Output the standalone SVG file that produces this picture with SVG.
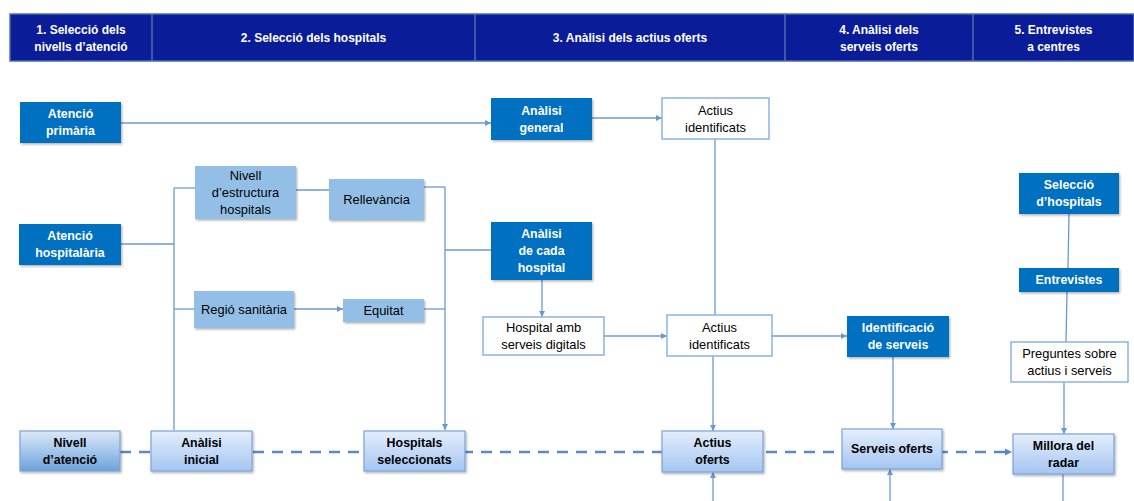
<svg xmlns="http://www.w3.org/2000/svg" width="1134" height="501" viewBox="0 0 1134 501">
<style>
text{font-family:"Liberation Sans",Arial,sans-serif;font-size:12px;text-anchor:middle}
.hd{fill:#fff;font-weight:bold}
.wb{fill:#fff;font-weight:bold;font-size:12.4px}
.bk{fill:#000;font-size:12.9px}
.bb{fill:#000;font-weight:bold;font-size:12.4px}
.dark{fill:#0070C0;filter:url(#sh)}
.light{fill:#93BFE7;filter:url(#sh)}
.white{fill:#fff;stroke:#8CB3E3;stroke-width:1.5}
.grad{fill:url(#g1);stroke:#7AA3D8;stroke-width:1.2;filter:url(#sh)}
.grad2{fill:url(#g2);stroke:#7AA3D8;stroke-width:1.2;filter:url(#sh)}
.c{fill:none;stroke:#6B98D2;stroke-width:1.3}
.ca{fill:none;stroke:#6B98D2;stroke-width:1.3;marker-end:url(#ah)}
.dash{fill:none;stroke:#5A89C8;stroke-width:2.5;stroke-dasharray:11 8}
</style>
<defs>
<filter id="sh" x="-10%" y="-10%" width="125%" height="130%">
<feDropShadow dx="1.2" dy="1.5" stdDeviation="1" flood-color="#000" flood-opacity="0.3"/>
</filter>
<linearGradient id="g1" x1="0" y1="0" x2="0" y2="1">
<stop offset="0" stop-color="#E4EEFC"/><stop offset="1" stop-color="#A4C5F1"/>
</linearGradient>
<linearGradient id="g2" x1="0" y1="0" x2="0" y2="1">
<stop offset="0" stop-color="#DCE8F8"/><stop offset="1" stop-color="#6CA3DC"/>
</linearGradient>
<marker id="ah" markerUnits="userSpaceOnUse" markerWidth="7" markerHeight="6" refX="6" refY="3" orient="auto">
<path d="M0,0 L6,3 L0,6 Z" fill="#6B98D2"/>
</marker>
<marker id="ahd" markerUnits="userSpaceOnUse" markerWidth="8" markerHeight="8" refX="7" refY="4" orient="auto">
<path d="M0,0.5 L7,4 L0,7.5 Z" fill="#5A89C8"/>
</marker>
</defs>

<g id="header">
<rect x="10" y="14" width="1124" height="47" fill="#0A1C98" stroke="#4C6EA8" stroke-width="1.5"/>
<g stroke="#4C6EA8" stroke-width="1.5">
<line x1="152" y1="14" x2="152" y2="61"/>
<line x1="475" y1="14" x2="475" y2="61"/>
<line x1="785" y1="14" x2="785" y2="61"/>
<line x1="973" y1="14" x2="973" y2="61"/>
</g>
<text class="hd" x="81" y="34">1. Selecció dels</text>
<text class="hd" x="81" y="51">nivells d’atenció</text>
<text class="hd" x="313.5" y="42">2. Selecció dels hospitals</text>
<text class="hd" x="630" y="42">3. Anàlisi dels actius oferts</text>
<text class="hd" x="879" y="34">4. Anàlisi dels</text>
<text class="hd" x="879" y="51">serveis oferts</text>
<text class="hd" x="1053.5" y="34">5. Entrevistes</text>
<text class="hd" x="1053.5" y="51">a centres</text>
</g>

<g id="connectors">
<path class="ca" d="M121,123 H491"/>
<path class="ca" d="M592,118 H662"/>
<path class="c" d="M715,139 V315"/>
<path class="c" d="M121,244 H174"/>
<path class="c" d="M174,188 V430"/>
<path class="c" d="M174,188 H195"/>
<path class="c" d="M174,309 H194"/>
<path class="c" d="M296,190 H329"/>
<path class="ca" d="M294,309 H343"/>
<path class="c" d="M424,187 H445"/>
<path class="ca" d="M445,187 V430"/>
<path class="c" d="M424,309 H445"/>
<path class="c" d="M445,250 H491"/>
<path class="ca" d="M542,280 V317"/>
<path class="ca" d="M604,336 H667"/>
<path class="ca" d="M772,336 H847"/>
<path class="ca" d="M713,356 V431"/>
<path class="ca" d="M893,357 V429"/>
<path class="c" d="M1069,214 L1068,268"/>
<path class="c" d="M1067,292 L1066,342"/>
<path class="ca" d="M1064,382 V434"/>
<path class="ca" d="M713,501 V472"/>
<path class="ca" d="M890,501 V469"/>
<path class="c" d="M1063,474 V501"/>
<path class="dash" d="M120,452 H1012" marker-end="url(#ahd)"/>
</g>

<g id="n-atencio-primaria">
<rect class="dark" x="20" y="102" width="101" height="41"/>
<text class="wb" x="70.5" y="118">Atenció</text>
<text class="wb" x="70.5" y="135">primària</text>
</g>
<g id="n-atencio-hospitalaria">
<rect class="dark" x="19" y="224" width="102" height="41"/>
<text class="wb" x="70" y="240">Atenció</text>
<text class="wb" x="70" y="257">hospitalària</text>
</g>
<g id="n-nivell-estructura">
<rect class="light" x="195" y="166" width="101" height="53"/>
<text class="bk" x="245.5" y="180">Nivell</text>
<text class="bk" x="245.5" y="197">d’estructura</text>
<text class="bk" x="245.5" y="214">hospitals</text>
</g>
<g id="n-rellevancia">
<rect class="light" x="329" y="179" width="95" height="41"/>
<text class="bk" x="376.5" y="204">Rellevància</text>
</g>
<g id="n-regio">
<rect class="light" x="194" y="291" width="100" height="37"/>
<text class="bk" x="244" y="314">Regió sanitària</text>
</g>
<g id="n-equitat">
<rect class="light" x="343" y="299" width="81" height="23"/>
<text class="bk" x="383.5" y="315">Equitat</text>
</g>
<g id="n-analisi-general">
<rect class="dark" x="491" y="98" width="101" height="42"/>
<text class="wb" x="541.5" y="115">Anàlisi</text>
<text class="wb" x="541.5" y="132">general</text>
</g>
<g id="n-actius-identificats-1">
<rect class="white" x="662" y="98" width="107" height="41"/>
<text class="bk" x="715.5" y="115">Actius</text>
<text class="bk" x="715.5" y="132">identificats</text>
</g>
<g id="n-analisi-cada">
<rect class="dark" x="491" y="222" width="101" height="58"/>
<text class="wb" x="541.5" y="238">Anàlisi</text>
<text class="wb" x="541.5" y="255">de cada</text>
<text class="wb" x="541.5" y="272">hospital</text>
</g>
<g id="n-hospital-amb">
<rect class="white" x="483" y="317" width="121" height="38"/>
<text class="bk" x="543.5" y="332">Hospital amb</text>
<text class="bk" x="543.5" y="349">serveis digitals</text>
</g>
<g id="n-actius-identificats-2">
<rect class="white" x="667" y="315" width="105" height="41"/>
<text class="bk" x="719.5" y="332">Actius</text>
<text class="bk" x="719.5" y="349">identificats</text>
</g>
<g id="n-identificacio">
<rect class="dark" x="847" y="316" width="102" height="41"/>
<text class="wb" x="898" y="332">Identificació</text>
<text class="wb" x="898" y="349">de serveis</text>
</g>
<g id="n-seleccio-hospitals">
<rect class="dark" x="1019" y="173" width="100" height="41"/>
<text class="wb" x="1069" y="189">Selecció</text>
<text class="wb" x="1069" y="206">d’hospitals</text>
</g>
<g id="n-entrevistes">
<rect class="dark" x="1019" y="268" width="100" height="24"/>
<text class="wb" x="1069" y="284">Entrevistes</text>
</g>
<g id="n-preguntes">
<rect class="white" x="1011" y="342" width="117" height="40"/>
<text class="bk" x="1069.5" y="358">Preguntes sobre</text>
<text class="bk" x="1069.5" y="375">actius i serveis</text>
</g>
<g id="n-nivell-atencio">
<rect class="grad2" x="20" y="431" width="100" height="40"/>
<text class="bb" x="70" y="447">Nivell</text>
<text class="bb" x="70" y="464">d’atenció</text>
</g>
<g id="n-analisi-inicial">
<rect class="grad" x="151" y="431" width="101" height="40"/>
<text class="bb" x="201.5" y="447">Anàlisi</text>
<text class="bb" x="201.5" y="464">inicial</text>
</g>
<g id="n-hospitals-seleccionats">
<rect class="grad" x="364" y="431" width="101" height="40"/>
<text class="bb" x="414.5" y="447">Hospitals</text>
<text class="bb" x="414.5" y="464">seleccionats</text>
</g>
<g id="n-actius-oferts">
<rect class="grad" x="662" y="431" width="101" height="41"/>
<text class="bb" x="712.5" y="447">Actius</text>
<text class="bb" x="712.5" y="464">oferts</text>
</g>
<g id="n-serveis-oferts">
<rect class="grad" x="842" y="429" width="100" height="40"/>
<text class="bb" x="892" y="453">Serveis oferts</text>
</g>
<g id="n-millora-radar">
<rect class="grad" x="1013" y="434" width="101" height="40"/>
<text class="bb" x="1063.5" y="450">Millora del</text>
<text class="bb" x="1063.5" y="467">radar</text>
</g>
</svg>
